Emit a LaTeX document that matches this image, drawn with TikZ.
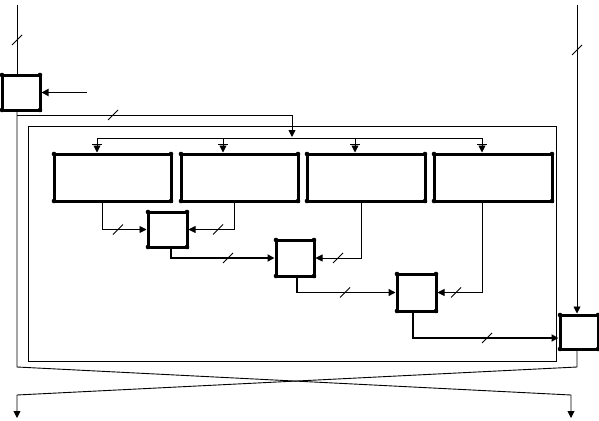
\documentclass[tikz,border=0pt]{standalone}
\usetikzlibrary{arrows.meta,calc}
\begin{document}
\begin{tikzpicture}[x=1pt,y=-1pt,
  thinln/.style={line width=0.9pt},
  medln/.style={line width=1.4pt},
  thickln/.style={line width=1.8pt},
  arr/.style={-{Triangle[length=7pt,width=7pt]}},
  boxnode/.style={draw, line width=3pt, inner sep=0pt, outer sep=0pt},
  slashmark/.style={line width=0.8pt}]
\useasboundingbox[fill=white] (0,0) rectangle (599,420);
\newcommand\slashmk[2]{\draw[slashmark] (#1,#2) ++(-5,5) -- ++(10,-10);}

% frame
\node[draw, thinln, minimum width=528, minimum height=235, inner sep=0pt] (frame) at (292,243.5) {};

% boxes
\node[boxnode, minimum width=38, minimum height=35] (A) at (21,92.5) {};
\node[boxnode, minimum width=117, minimum height=47] (b1) at (112.5,177.5) {};
\node[boxnode, minimum width=117, minimum height=47] (b2) at (239.5,177.5) {};
\node[boxnode, minimum width=118, minimum height=47] (b3) at (366,177.5) {};
\node[boxnode, minimum width=118, minimum height=47] (b4) at (493,177.5) {};
\node[boxnode, minimum width=39, minimum height=35] (B) at (167.5,229.5) {};
\node[boxnode, minimum width=38, minimum height=36] (C) at (295,258) {};
\node[boxnode, minimum width=39, minimum height=37] (D) at (416.5,292.5) {};
\node[boxnode, minimum width=38, minimum height=34] (E) at (579,332) {};
\foreach \n in {A,b1,b2,b3,b4,B,C,D,E}{
  \foreach \c in {north west,north east,south west,south east}
    \fill (\n.\c) circle (2.3pt);
}

% left input
\coordinate (inL) at (17,5);
\draw[thinln] (inL) -- (A.north -| inL);
\slashmk{17}{40}
\coordinate (inA) at (87,92.5);
\draw[thickln,arr,shorten >=1.5pt] (inA) -- (A.east);

% left output path crossing
\coordinate (botL) at (17,367);
\coordinate (outR) at (571,395);
\coordinate (endR) at (571,418);
\draw[thinln,arr] (A.south -| inL) -- (botL) -- (outR) -- (endR);

% branch to distribution
\coordinate (br) at (17,115);
\coordinate (brT) at (292,115);
\coordinate (distTop) at (292,137);
\draw[thinln,arr] (br) -- (brT) -- (distTop);
\slashmk{113}{115}

% distribution line
\coordinate (d1) at (97,138);
\coordinate (d4) at (482,138);
\draw[thinln] (d1) -- (d4);
\coordinate (t1) at ([xshift=-15.5pt]b1.north);
\coordinate (t2) at ([xshift=-16.5pt]b2.north);
\coordinate (t3) at ([xshift=-11pt]b3.north);
\coordinate (t4) at ([xshift=-11pt]b4.north);
\foreach \t in {t1,t2,t3,t4}{
  \draw[thinln,arr,shorten >=1.5pt] (\t |- d1) -- (\t);
  \draw[thinln] ($(\t)+(-5,-10)$) -- ($(\t)+(5,-10)$);
}

% outputs of big boxes to small boxes
\coordinate (o1) at ([xshift=-10.5pt]b1.south);
\coordinate (o2) at ([xshift=-5.5pt]b2.south);
\coordinate (o3) at ([xshift=-5pt]b3.south);
\coordinate (o4) at ([xshift=-11pt]b4.south);
\draw[thinln,arr,shorten >=1.5pt] (o1) |- (B.west);
\slashmk{118}{229.5}
\draw[thinln,arr,shorten >=1.5pt] (o2) |- (B.east);
\slashmk{218}{229.5}
\draw[thinln,arr,shorten >=1.5pt] (o3) |- (C.east);
\slashmk{338}{258}
\draw[thinln,arr,shorten >=1.5pt] (o4) |- (D.east);
\slashmk{456}{292.5}

% chain of small boxes
\coordinate (oB) at ([xshift=3.5pt]B.south);
\coordinate (oC) at ([xshift=2pt]C.south);
\coordinate (oD) at ([xshift=-3.5pt]D.south);
\coordinate (Ein) at ([yshift=-6pt]E.west);
\draw[thickln,arr,shorten >=1.5pt] (oB) |- (C.west);
\slashmk{228}{258}
\draw[medln,arr,shorten >=1.5pt] (oC) |- (D.west);
\slashmk{345}{292.5}
\draw[thickln,arr,shorten >=1.5pt] (oD) |- (Ein);
\slashmk{487}{338}

% right input
\coordinate (inR) at (577,5);
\draw[thinln,arr,shorten >=1.5pt] (inR) -- (inR |- E.north);
\slashmk{577}{50}

% right output path crossing
\coordinate (botR) at (577,367);
\coordinate (outL) at (17,395);
\coordinate (endL) at (17,418);
\draw[thinln,arr] (E.south -| inR) -- (botR) -- (outL) -- (endL);
\end{tikzpicture}
\end{document}
